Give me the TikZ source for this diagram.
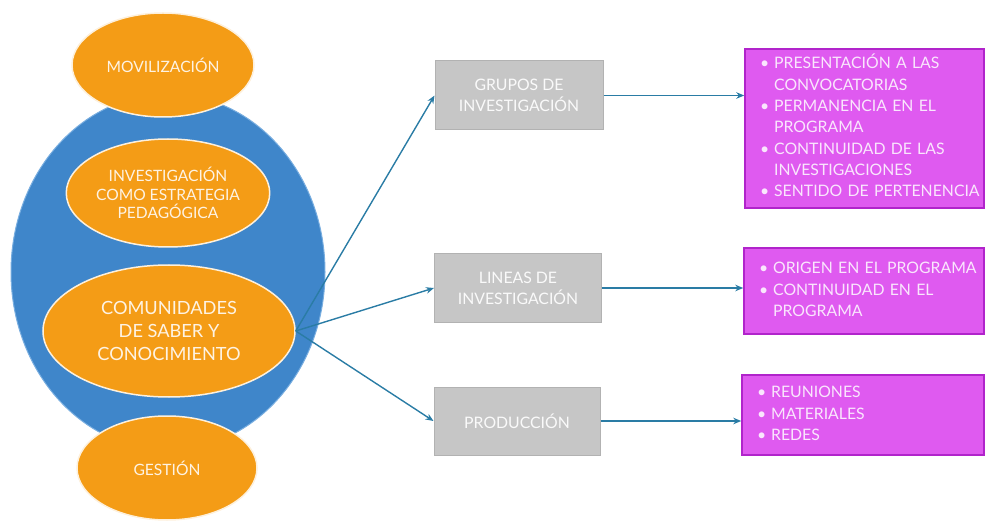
\documentclass[tikz,border=0pt]{standalone}
\usepackage{fontspec}
\setmainfont{Lato}
\usepackage{xcolor}
\usetikzlibrary{shapes.geometric, arrows.meta}

\definecolor{fondoazul}{HTML}{3F86CA}
\definecolor{bordeazul}{HTML}{79AEE0}
\definecolor{naranja}{HTML}{F49C16}
\definecolor{gris}{HTML}{C6C6C6}
\definecolor{bordegris}{HTML}{B2B2B2}
\definecolor{morado}{HTML}{DF5AF0}
\definecolor{bordemorado}{HTML}{B124CB}
\definecolor{flecha}{HTML}{2A7CA5}

\begin{document}
\begin{tikzpicture}[x=1pt, y=-1pt, >={Stealth[length=8pt, width=6.5pt]},
        orange/.style={ellipse, draw=white!85!naranja, line width=1.5pt, fill=naranja, inner sep=0pt, align=center, text=white!88!naranja},
        graybox/.style={rectangle, draw=bordegris, line width=1pt, fill=gris, inner sep=0pt, align=center, text=white!92!gris, font=\fontsize{15.8}{21}\selectfont},
        purplebox/.style={rectangle, draw=bordemorado, line width=1.5pt, fill=morado, inner xsep=15pt, inner ysep=0pt, align=left, text=white!85!morado, font=\fontsize{15.8}{21.3}\selectfont},
        conn/.style={->, draw=flecha, line width=1.4pt}]
        \useasboundingbox (0,0) rectangle (985,521);

        % Blue background
        \node[ellipse, draw=bordeazul, line width=1pt, fill=fondoazul, minimum width=314pt, minimum height=356pt] (campo) at (168,272) {};

        % Orange ellipses
        \node[orange, minimum width=182pt, minimum height=104pt, font=\fontsize{15.6}{18}\selectfont] (movil) at (163,65) {MOVILIZACIÓN};
        \node[orange, minimum width=190pt, minimum height=108pt, font=\fontsize{15.6}{18.5}\selectfont] (invest) at (168,193) {INVESTIGACIÓN\\COMO ESTRATEGIA\\PEDAGÓGICA};
        \node[orange, minimum width=252pt, minimum height=132pt, font=\fontsize{18.2}{23.3}\selectfont] (comun) at (169,331) {COMUNIDADES\\DE SABER Y\\CONOCIMIENTO};
        \node[orange, minimum width=180pt, minimum height=104pt, font=\fontsize{15.6}{18}\selectfont] (gestion) at (167,468) {GESTIÓN};

        % Gray boxes
        \node[graybox, minimum width=168pt, minimum height=69pt] (grupos) at (519,95.5) {GRUPOS DE\\INVESTIGACIÓN};
        \node[graybox, minimum width=167pt, minimum height=68pt] (lineas) at (518,288) {LINEAS DE\\INVESTIGACIÓN};
        \node[graybox, minimum width=166pt, minimum height=68pt] (produc) at (517,421) {PRODUCCIÓN};

        % Purple boxes
        \node[purplebox, minimum width=239pt, minimum height=159pt, text width=209pt] (res1) at (864.5,128.5) {%
        \begin{tabular}{@{}l@{\hspace{5pt}}l@{}}
        \textbullet & PRESENTACIÓN A LAS\\ & CONVOCATORIAS\\
        \textbullet & PERMANENCIA EN EL\\ & PROGRAMA\\
        \textbullet & CONTINUIDAD DE LAS\\ & INVESTIGACIONES\\
        \textbullet & SENTIDO DE PERTENENCIA
        \end{tabular}};
        \node[purplebox, minimum width=240pt, minimum height=86pt, text width=210pt] (res2) at (864,291) {%
        \begin{tabular}{@{}l@{\hspace{5pt}}l@{}}
        \textbullet & ORIGEN EN EL PROGRAMA\\
        \textbullet & CONTINUIDAD EN EL\\ & PROGRAMA
        \end{tabular}};
        \node[purplebox, minimum width=242pt, minimum height=80pt, text width=212pt] (res3) at (863,415) {%
        \begin{tabular}{@{}l@{\hspace{5pt}}l@{}}
        \textbullet & REUNIONES\\
        \textbullet & MATERIALES\\
        \textbullet & REDES
        \end{tabular}};

        % Connections
        \foreach \dest in {grupos,lineas,produc}
        \draw[conn] (comun.east) -- (\dest.west);
        \draw[conn] (grupos.east) -- (grupos.east -| res1.west);
        \draw[conn] (lineas.east) -- (lineas.east -| res2.west);
        \draw[conn] (produc.east) -- (produc.east -| res3.west);
    \end{tikzpicture}
\end{document}
